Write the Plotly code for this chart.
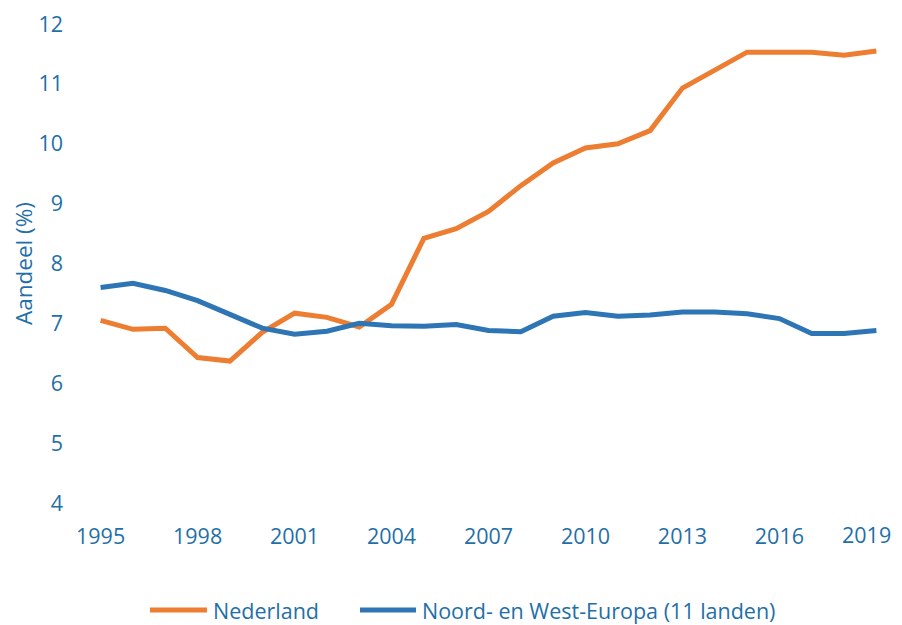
import plotly.graph_objects as go

years = list(range(1995, 2020))
nederland = [7.05, 6.90, 6.92, 6.43, 6.37, 6.85, 7.17, 7.10, 6.94, 7.32, 8.42, 8.58,
             8.87, 9.30, 9.68, 9.93, 10.00, 10.22, 10.93, 11.23, 11.53, 11.53, 11.53, 11.48, 11.55]
noordwest = [7.60, 7.67, 7.55, 7.38, 7.15, 6.92, 6.82, 6.87, 7.00, 6.96, 6.95, 6.98,
             6.88, 6.86, 7.12, 7.18, 7.12, 7.14, 7.19, 7.19, 7.16, 7.08, 6.83, 6.83, 6.88]
x_ticks = [1995, 1998, 2001, 2004, 2007, 2010, 2013, 2016, 2019]
y_ticks = [4, 5, 6, 7, 8, 9, 10, 11, 12]
series_names = ["Nederland", "Noord- en West-Europa (11 landen)"]
series_colors = ["#ED7D31", "#2E75B6"]

TEXT = "#1F6FA8"
FONT = "Open Sans"
FS = 21.5

fig = go.Figure()
for name, vals, col in zip(series_names, [nederland, noordwest], series_colors):
    fig.add_trace(go.Scatter(x=years, y=vals, mode="lines", name=name,
                             line=dict(color=col, width=5), showlegend=False))

# manual legend (longer line symbols like the original)
leg_y = -0.2234
leg_items = [(0.0877, 0.1571, 0.162), (0.3435, 0.4117, 0.4166)]
for (x0, x1, xt), name, col in zip(leg_items, series_names, series_colors):
    fig.add_shape(type="line", xref="paper", yref="paper", x0=x0, x1=x1, y0=leg_y, y1=leg_y,
                  line=dict(color=col, width=5))
    fig.add_annotation(xref="paper", yref="paper", x=xt, y=leg_y, text=name, showarrow=False,
                       xanchor="left", yanchor="middle", font=dict(size=FS, color=TEXT, family=FONT))

# last x tick label drawn right-aligned so it is not cut at the page's right edge
tick_text = [str(v) for v in x_ticks]
fig.add_annotation(xref="paper", yref="paper", x=0.9925, y=0, yshift=-15, text=tick_text[-1],
                   showarrow=False, xanchor="right", yanchor="top",
                   font=dict(size=FS, color=TEXT, family=FONT))
axis_tick_text = tick_text[:-1] + [""]

# page body has an 8px margin, so the figure is sized/offset to compensate
fig.update_layout(
    width=894, height=617,
    margin=dict(l=70, r=3, t=16, b=122),
    paper_bgcolor="white", plot_bgcolor="white",
    font=dict(family=FONT, size=FS, color=TEXT),
    showlegend=False,
    xaxis=dict(range=[1994.3, 2019.7], tickmode="array", tickvals=x_ticks,
               ticktext=axis_tick_text, showgrid=False, zeroline=False,
               showline=False, ticks="", ticklabelstandoff=18, automargin=False,
               tickfont=dict(size=FS, color=TEXT, family=FONT)),
    yaxis=dict(range=[4, 12], tickmode="array", tickvals=y_ticks,
               showgrid=False, zeroline=False, showline=False, ticks="",
               ticklabelstandoff=14, automargin=False,
               title=dict(text="Aandeel (%)", font=dict(size=22.5, color=TEXT, family=FONT), standoff=8),
               tickfont=dict(size=FS, color=TEXT, family=FONT)),
)

fig.write_html("out.html")
